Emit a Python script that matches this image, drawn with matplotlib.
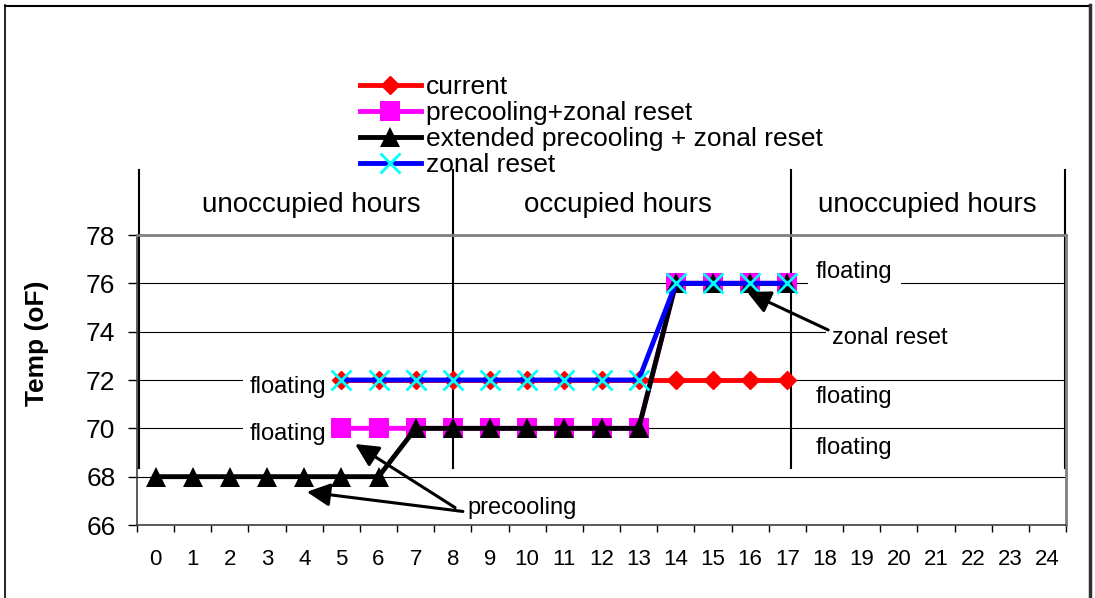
import numpy as np
import matplotlib.pyplot as plt
from matplotlib.lines import Line2D
from matplotlib.patches import Rectangle

plt.rcParams['font.family'] = ['Liberation Sans', 'DejaVu Sans']

nan = np.nan
hours = [0, 1, 2, 3, 4, 5, 6, 7, 8, 9, 10, 11, 12, 13, 14, 15, 16, 17, 18, 19, 20, 21, 22, 23, 24]
# temperature setpoints (oF) per hour, nan = floating
current = [nan, nan, nan, nan, nan, 72, 72, 72, 72, 72, 72, 72, 72, 72, 72, 72, 72, 72,
           nan, nan, nan, nan, nan, nan, nan]
precool_zonal = [nan, nan, nan, nan, nan, 70, 70, 70, 70, 70, 70, 70, 70, 70, 76, 76, 76, 76,
                 nan, nan, nan, nan, nan, nan, nan]
ext_precool_zonal = [68, 68, 68, 68, 68, 68, 68, 70, 70, 70, 70, 70, 70, 70, 76, 76, 76, 76,
                     nan, nan, nan, nan, nan, nan, nan]
zonal_reset = [nan, nan, nan, nan, nan, 72, 72, 72, 72, 72, 72, 72, 72, 72, 76, 76, 76, 76,
               nan, nan, nan, nan, nan, nan, nan]

yticks = [66, 68, 70, 72, 74, 76, 78]
period_names = ['unoccupied hours', 'occupied hours', 'unoccupied hours']
period_centers = [4.2, 12.45, 20.78]
period_bounds = [-0.45, 8, 17.1, 24.47]

W, H = 1095, 598
fig = plt.figure(figsize=(W / 100, H / 100), dpi=100)
ax = fig.add_axes([137 / W, 1 - 525 / H, 929 / W, 290 / H])

ax.plot(hours, current, color='red', lw=3.5, marker='D', ms=9.5, mfc='red', mec='red',
        label='current', zorder=3)
ax.plot(hours, precool_zonal, color='#FF00FF', lw=3.5, marker='s', ms=14, mew=0,
        label='precooling+zonal reset', zorder=4)
ax.plot(hours, ext_precool_zonal, color='black', lw=3.5, marker='^', ms=14, mew=0,
        label='extended precooling + zonal reset', zorder=5)
ax.plot(hours, zonal_reset, color='blue', lw=3.5, marker='x', ms=15, mec='cyan', mew=2,
        label='zonal reset', zorder=6)

ax.set_xlim(-0.5, 24.5)
ax.set_ylim(66, 78)
ax.set_xticks(hours)
ax.set_xticks(np.arange(-0.5, 25, 1), minor=True)
ax.tick_params(axis='x', which='major', length=0, pad=17, labelsize=16)
ax.tick_params(axis='x', which='minor', length=5, width=1, direction='out')
ax.set_yticks(yticks)
ax.tick_params(axis='y', length=6.5, width=1, labelsize=19, pad=9)

ax.yaxis.grid(True, color='black', lw=0.8)
ax.set_axisbelow(True)
for s in ['top', 'right']:
    ax.spines[s].set_color('#808080')
    ax.spines[s].set_linewidth(2)
for s in ['left', 'bottom']:
    ax.spines[s].set_color('#404040')
    ax.spines[s].set_linewidth(1.2)

# period dividers and labels
for xb in period_bounds:
    ax.plot([xb, xb], [68.36, 80.69], color='black', lw=1.5, clip_on=False, zorder=2)
for name, xc in zip(period_names, period_centers):
    ax.text(xc, 79.25, name, ha='center', va='center', fontsize=20, clip_on=False)

# annotations
white = dict(boxstyle='square,pad=0.25', fc='white', ec='none')
ax.text(2.52, 71.7, 'floating', fontsize=17, va='center', bbox=white, zorder=1.5)
ax.text(2.52, 69.75, 'floating', fontsize=17, va='center', bbox=white, zorder=1.5)
ax.text(17.77, 76.45, 'floating', fontsize=17, va='center',
        bbox=dict(boxstyle='square,pad=0.35', fc='white', ec='none'), zorder=1.5)
ax.text(17.77, 71.3, 'floating', fontsize=17, va='center', zorder=1.5)
ax.text(17.77, 69.2, 'floating', fontsize=17, va='center', zorder=1.5)

ax.add_patch(Rectangle((18.05, 73.85), 6.4, 0.3, fc='white', ec='none', zorder=1))
ax.text(18.2, 73.75, 'zonal reset', fontsize=17, va='center', zorder=1.5)
ax.text(8.38, 66.7, 'precooling', fontsize=17, va='center', zorder=1.5)

arrow = dict(arrowstyle='-|>,head_length=0.7,head_width=0.35', color='black', lw=2.2,
             mutation_scale=20, shrinkA=0, shrinkB=0)
ax.annotate('', xy=(4.07, 67.37), xytext=(8.27, 66.56), arrowprops=arrow, zorder=7)
ax.annotate('', xy=(5.37, 69.35), xytext=(8.06, 66.72), arrowprops=arrow, zorder=7)
ax.annotate('', xy=(15.92, 75.64), xytext=(18.1, 74.07), arrowprops=arrow, zorder=7)

fig.text(37 / W, 1 - 343 / H, 'Temp (oF)', rotation=90, ha='center', va='center',
         fontsize=19, fontweight='bold')

fig.legend(loc='upper left', bbox_to_anchor=(360 / W, 1 - 75 / H), frameon=False,
           fontsize=19, handlelength=2.3, handletextpad=0.2, labelspacing=0.08,
           borderpad=0, borderaxespad=0, numpoints=1, markerscale=1.0)

# outer chart border
fig.add_artist(Line2D([5 / W, 5 / W], [0, 1 - 5 / H], color='black', lw=1.2,
                      transform=fig.transFigure))
fig.add_artist(Line2D([5 / W, 1090 / W], [1 - 5.5 / H, 1 - 5.5 / H], color='black', lw=1.5,
                      transform=fig.transFigure))
fig.add_artist(Line2D([1090 / W, 1090 / W], [0, 1 - 5 / H], color='#303030', lw=2.5,
                      transform=fig.transFigure))

fig.savefig('out.png', dpi=100)
